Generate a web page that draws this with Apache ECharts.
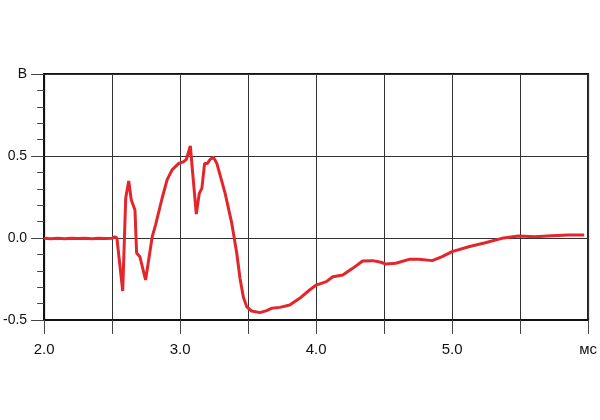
<!DOCTYPE html>
<html>
<head>
<meta charset="utf-8">
<script src="https://cdn.jsdelivr.net/npm/echarts@6/dist/echarts.min.js"></script>
<style>html,body{margin:0;padding:0;background:#fff}#c{width:600px;height:420px}</style>
</head>
<body>
<div id="c"></div>
<script>
var timeMs = [2.0, 2.05, 2.1, 2.15, 2.2, 2.25, 2.3, 2.35, 2.4, 2.45, 2.5, 2.52, 2.535, 2.578, 2.600, 2.622, 2.641, 2.668, 2.680, 2.704, 2.746, 2.795, 2.819, 2.868, 2.904, 2.941, 2.990, 3.026, 3.046, 3.075, 3.119, 3.141, 3.160, 3.180, 3.201, 3.221, 3.245, 3.270, 3.331, 3.380, 3.416, 3.441, 3.465, 3.490, 3.526, 3.587, 3.636, 3.672, 3.733, 3.806, 3.879, 3.952, 4.001, 4.075, 4.123, 4.196, 4.269, 4.342, 4.415, 4.477, 4.513, 4.586, 4.684, 4.757, 4.854, 4.927, 5.000, 5.122, 5.244, 5.366, 5.488, 5.610, 5.732, 5.854, 5.971];
var volts = [-0.002, -0.004, -0.002, -0.004, -0.002, -0.003, -0.002, -0.004, -0.002, -0.003, -0.002, 0.008, 0.0, -0.323, 0.244, 0.348, 0.232, 0.171, -0.091, -0.114, -0.256, 0.008, 0.079, 0.244, 0.354, 0.415, 0.455, 0.465, 0.480, 0.561, 0.146, 0.272, 0.303, 0.455, 0.455, 0.480, 0.492, 0.455, 0.272, 0.089, -0.09, -0.25, -0.36, -0.42, -0.445, -0.455, -0.443, -0.429, -0.423, -0.409, -0.368, -0.317, -0.287, -0.266, -0.236, -0.226, -0.185, -0.140, -0.138, -0.148, -0.159, -0.154, -0.130, -0.130, -0.138, -0.114, -0.083, -0.053, -0.029, -0.002, 0.012, 0.008, 0.014, 0.018, 0.018];
var xLabels = {"2": "2.0", "3": "3.0", "4": "4.0", "5": "5.0", "6": "мс"};
var yLabels = {"-0.5": "-0.5", "0": "0.0", "0.5": "0.5", "1": "В"};

var pts = timeMs.map(function (t, i) { return [t, volts[i]]; });
var chart = echarts.init(document.getElementById('c'), null, {renderer: 'canvas'});
chart.setOption({
  animation: false,
  backgroundColor: '#fff',
  grid: {left: 43, right: 10, top: 74, bottom: 100, show: true, borderColor: '#111', borderWidth: 2},
  xAxis: {
    type: 'value', min: 2, max: 6, interval: 0.5,
    axisLine: {show: true, onZero: false, lineStyle: {color: '#111', width: 2}},
    axisTick: {show: true, length: 14, lineStyle: {color: '#444', width: 1}},
    axisLabel: {
      margin: 22, color: '#111', fontSize: 15, fontFamily: 'Liberation Sans, Arial, sans-serif',
      formatter: function (v) { var k = String(Math.round(v * 100) / 100); return xLabels[k] || ''; }
    },
    splitLine: {show: true, lineStyle: {color: '#333', width: 1}}
  },
  yAxis: {
    type: 'value', min: -0.5, max: 1, interval: 0.5,
    axisLine: {show: true, onZero: false, lineStyle: {color: '#111', width: 2}},
    axisTick: {show: true, length: 13, lineStyle: {color: '#444', width: 1}},
    minorTick: {show: true, splitNumber: 5, length: 7, lineStyle: {color: '#444', width: 1}},
    axisLabel: {
      margin: 17, color: '#111', fontSize: 14, fontFamily: 'Liberation Sans, Arial, sans-serif',
      formatter: function (v) { var k = String(Math.round(v * 100) / 100); return yLabels[k] || ''; }
    },
    splitLine: {show: true, lineStyle: {color: '#333', width: 1}}
  },
  series: [{
    type: 'line', data: pts, showSymbol: false, symbol: 'none',
    lineStyle: {color: '#e3262b', width: 3}, z: 5
  }]
});
</script>
</body>
</html>
